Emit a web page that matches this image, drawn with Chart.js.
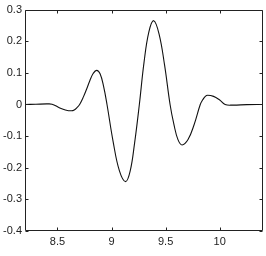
<!DOCTYPE html>
<html>
<head>
<meta charset="utf-8">
<script src="https://cdn.jsdelivr.net/npm/chart.js@4"></script>
<style>
  html, body { margin: 0; padding: 0; background: #fff; }
  canvas { display: block; }
</style>
</head>
<body>
<canvas id="chart" width="266" height="256"></canvas>
<script>
// values
const xValues = [8.2, 8.3, 8.4, 8.45, 8.517, 8.573, 8.63, 8.655, 8.68, 8.705,
                 8.74, 8.77, 8.80, 8.83, 8.862, 8.894, 8.926, 8.958,
                 9.015, 9.073, 9.13, 9.172, 9.213, 9.257,
                 9.30, 9.345, 9.39, 9.44, 9.49, 9.541,
                 9.577, 9.614, 9.652, 9.707, 9.763, 9.82,
                 9.843, 9.867, 9.888, 9.943, 9.997, 10.05, 10.12, 10.25, 10.4];
const yValues = [0, 0.0008, 0.0018, 0.001, -0.010, -0.0173, -0.020, -0.0173, -0.010, 0,
                 0.024, 0.049, 0.076, 0.098, 0.108, 0.097, 0.058, 0,
                 -0.118, -0.21, -0.244, -0.211, -0.122, 0,
                 0.1325, 0.2295, 0.265, 0.222, 0.125, 0,
                 -0.064, -0.111, -0.128, -0.111, -0.064, 0,
                 0.0148, 0.0256, 0.029, 0.0256, 0.0148, 0, -0.002, -0.0005, 0];
const xTicks = [8.5, 9, 9.5, 10];
const yTicks = [-0.4, -0.3, -0.2, -0.1, 0, 0.1, 0.2, 0.3];
const xRange = [8.2, 10.4];
const yRange = [-0.4, 0.3];

// frame plus inward ticks on all four sides, matlab style
const framePlugin = {
    id: 'frame',
    afterDraw(chart) {
        const ctx = chart.ctx;
        const a = chart.chartArea;
        const l = Math.round(a.left) + 0.5, r = Math.round(a.right) - 0.5;
        const t = Math.round(a.top) + 0.5, b = Math.round(a.bottom) - 0.5;
        const len = 3;
        ctx.save();
        ctx.strokeStyle = '#222';
        ctx.lineWidth = 1;
        ctx.beginPath();
        ctx.rect(l, t, r - l, b - t);
        for (const v of xTicks) {
            const px = Math.round(chart.scales.x.getPixelForValue(v)) + 0.5;
            ctx.moveTo(px, b); ctx.lineTo(px, b - len);
            ctx.moveTo(px, t); ctx.lineTo(px, t + len);
        }
        for (const v of yTicks) {
            const py = Math.round(chart.scales.y.getPixelForValue(v)) + 0.5;
            ctx.moveTo(l, py); ctx.lineTo(l + len, py);
            ctx.moveTo(r, py); ctx.lineTo(r - len, py);
        }
        ctx.stroke();
        ctx.restore();
    }
};

const fmt = v => String(Number(v.toFixed(2)));

new Chart(document.getElementById('chart'), {
    type: 'line',
    data: {
        datasets: [{
            data: xValues.map((x, i) => ({ x: x, y: yValues[i] })),
            borderColor: '#111',
            borderWidth: 1.1,
            pointRadius: 0,
            fill: false,
            tension: 0.4
        }]
    },
    options: {
        responsive: false,
        animation: false,
        devicePixelRatio: 1,
        layout: { padding: { top: 8, right: 3, left: 0, bottom: 0 } },
        plugins: { legend: { display: false }, tooltip: { enabled: false } },
        scales: {
            x: {
                type: 'linear',
                min: xRange[0],
                max: xRange[1],
                grid: { display: false, drawTicks: false },
                border: { display: false },
                afterBuildTicks: s => { s.ticks = xTicks.map(v => ({ value: v })); },
                afterFit: s => { s.height = 25; },
                ticks: {
                    color: '#222',
                    font: { family: 'Liberation Sans, Arial, sans-serif', size: 11 },
                    padding: 4,
                    maxRotation: 0,
                    callback: v => fmt(v)
                }
            },
            y: {
                min: yRange[0],
                max: yRange[1],
                grid: { display: false, drawTicks: false },
                border: { display: false },
                afterBuildTicks: s => { s.ticks = yTicks.map(v => ({ value: v })); },
                afterFit: s => { s.width = 25; },
                ticks: {
                    color: '#222',
                    font: { family: 'Liberation Sans, Arial, sans-serif', size: 11 },
                    padding: 3,
                    callback: v => fmt(v)
                }
            }
        }
    },
    plugins: [framePlugin]
});
</script>
</body>
</html>
